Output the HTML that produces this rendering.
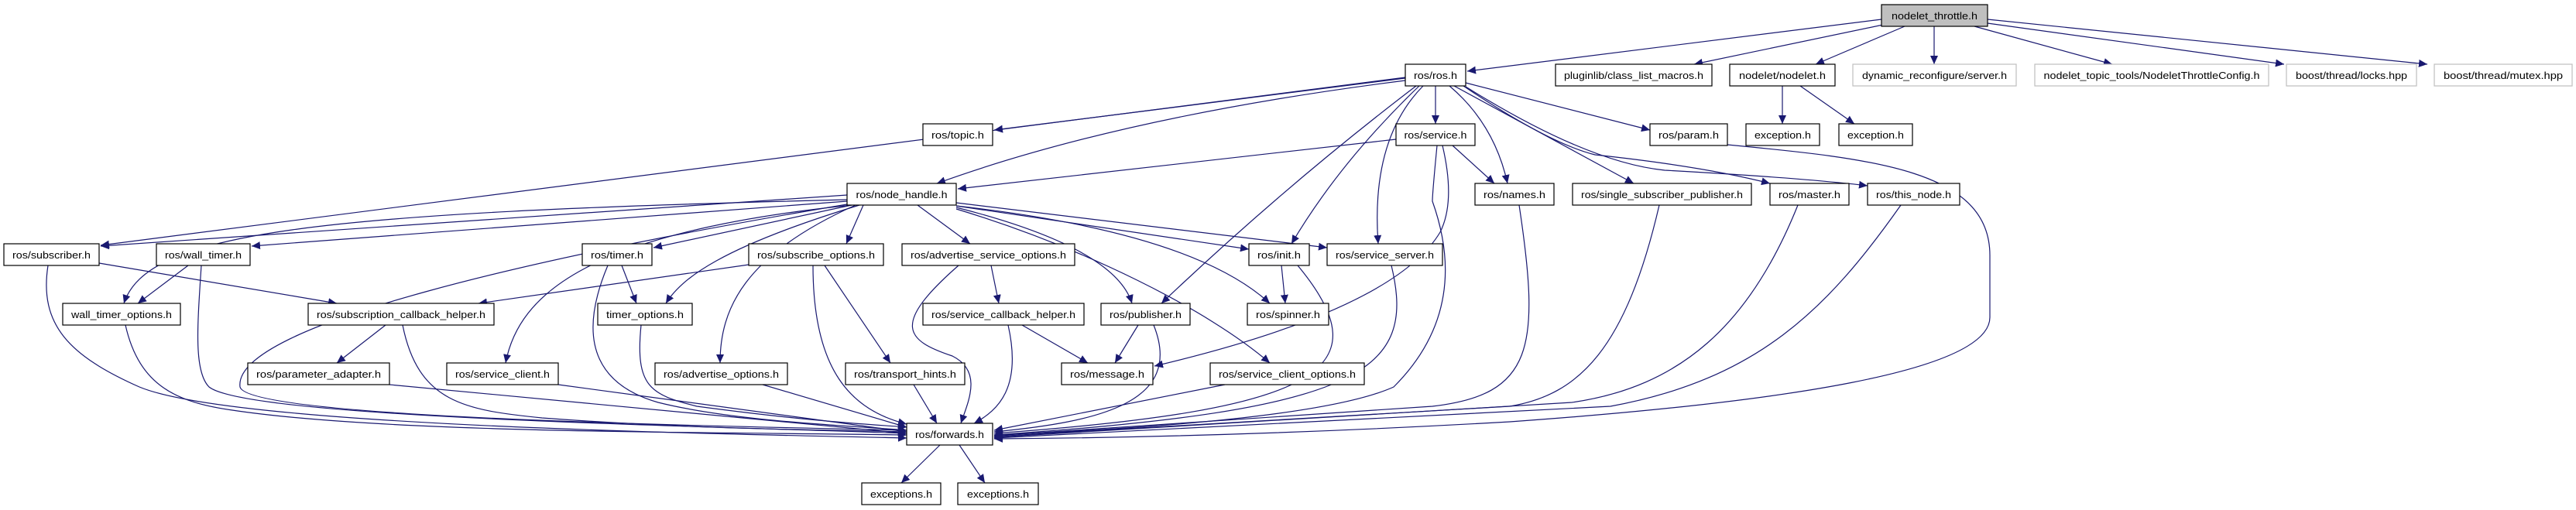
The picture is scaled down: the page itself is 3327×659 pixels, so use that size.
<!DOCTYPE html>
<html><head><meta charset="utf-8"><style>
html,body{margin:0;padding:0;background:#fff;}
svg{display:block}
text{font-family:"Liberation Sans",sans-serif;font-size:13px;fill:#000}
</style></head><body>
<svg width="3327" height="659" viewBox="0 0 3327 659" xmlns="http://www.w3.org/2000/svg">
<defs>
<marker id="a" markerUnits="userSpaceOnUse" markerWidth="12" markerHeight="10" refX="11" refY="5" orient="auto">
<path d="M0,0 L11,5 L0,10 Z" fill="#191970"/>
</marker>
</defs>
<g fill="none" stroke="#191970" stroke-width="1.2" marker-end="url(#a)">
<!-- top node -->
<path d="M2430,25 L1895,92"/>
<path d="M2432,32 L2188,83"/>
<path d="M2460,34 L2345,83"/>
<path d="M2498,34 L2498,83"/>
<path d="M2550,34 L2728,83"/>
<path d="M2567,30 L2950,83"/>
<path d="M2567,25 L3135,83"/>
<path d="M2302,111 L2302,160"/>
<path d="M2325,111 L2395,160"/>
<!-- ros.h -->
<path d="M1815,100 L130,317"/>
<path d="M1815,101 L1284,168"/>
<path d="M1815,104 Q1450,150 1210,237"/>
<path d="M1854,111 L1854,160"/>
<path d="M1872,111 Q1930,160 1947,237"/>
<path d="M1833,111 Q1730,210 1668,315"/>
<path d="M1829,111 Q1660,240 1500,392"/>
<path d="M1838,111 Q1770,180 1780,315"/>
<path d="M1878,111 L2110,237"/>
<path d="M1893,107 L2131,168"/>
<path d="M1890,111 Q2000,185 2060,200 Q2200,215 2286,237"/>
<path d="M1893,112 Q2050,210 2150,220 Q2330,230 2412,240"/>
<!-- service.h -->
<path d="M1803,180 L1237,244"/>
<path d="M1876,188 L1930,237"/>
<path d="M1863,188 Q1880,260 1860,300 Q1800,400 1491,473"/>
<path d="M1856,188 Q1850,250 1850,260 Q1900,400 1800,500 Q1700,545 1284,562"/>
<!-- param.h -->
<path d="M2231,187 C2420,205 2570,220 2570,330 L2570,410 C2570,480 2300,520 1950,545 Q1600,565 1284,567"/>
<!-- node_handle -->
<path d="M1094,252 L130,318"/>
<path d="M1094,260 L325,318"/>
<path d="M1094,258 C400,275 190,300 160,392"/>
<path d="M1100,265 L844,320"/>
<path d="M1110,265 C930,320 880,360 860,392"/>
<path d="M1115,265 L1093,315"/>
<path d="M1185,265 L1253,315"/>
<path d="M1105,265 C960,330 930,400 930,469"/>
<path d="M1100,265 C760,300 670,380 653,469"/>
<path d="M1235,270 C1400,320 1560,400 1640,469"/>
<path d="M1235,268 Q1440,320 1462,392"/>
<path d="M1235,266 L1613,322"/>
<path d="M1235,266 Q1540,300 1640,392"/>
<path d="M1235,262 L1714,320"/>
<path d="M1094,264 C700,330 300,420 310,500 C320,540 900,550 1171,556"/>
<!-- subscriber / wall timer -->
<path d="M128,340 L435,392"/>
<path d="M62,343 C50,420 90,460 180,500 C300,550 900,560 1171,566"/>
<path d="M243,343 L178,392"/>
<path d="M260,343 C255,420 250,480 270,500 C320,540 900,550 1171,560"/>
<path d="M162,420 C180,500 230,520 300,530 C500,560 900,558 1171,562"/>
<path d="M498,420 L435,469"/>
<path d="M520,420 C540,520 600,530 700,540 C900,555 1050,555 1171,558"/>
<path d="M785,343 C740,450 780,500 850,520 C950,545 1100,550 1171,556"/>
<path d="M803,343 L822,392"/>
<path d="M828,420 C820,500 840,510 900,525 C1050,545 1120,548 1171,552"/>
<path d="M967,342 L618,392"/>
<path d="M1065,343 L1150,469"/>
<path d="M1050,343 C1050,480 1100,530 1171,548"/>
<path d="M503,497 L1171,560"/>
<path d="M721,497 L1171,558"/>
<path d="M985,497 L1171,552"/>
<path d="M1180,497 L1210,547"/>
<!-- advertise service etc -->
<path d="M1280,343 L1290,392"/>
<path d="M1238,343 C1150,420 1170,440 1230,460 C1270,480 1250,520 1241,547"/>
<path d="M1320,420 L1405,469"/>
<path d="M1302,420 C1320,500 1290,530 1258,547"/>
<path d="M1470,420 L1440,469"/>
<path d="M1490,420 C1530,520 1420,545 1284,558"/>
<path d="M1655,343 L1660,392"/>
<path d="M1676,343 C1790,480 1700,530 1284,560"/>
<path d="M1797,343 C1830,480 1760,530 1284,562"/>
<path d="M1582,497 L1284,556"/>
<path d="M1962,265 C1990,450 1980,510 1850,525 L1284,563"/>
<path d="M2143,265 C2100,450 2040,510 1950,525 L1284,564"/>
<path d="M2322,265 C2260,420 2170,500 2030,520 L1284,565"/>
<path d="M2455,265 C2360,400 2270,490 2080,525 L1284,566"/>
<!-- forwards -->
<path d="M1214,575 L1164,624"/>
<path d="M1239,575 L1272,624"/>
</g>
<g stroke="#000" stroke-width="1.2" fill="#fff">
<rect x="2430" y="6" width="137" height="28" fill="#bfbfbf"/>
<rect x="1815" y="83" width="78" height="28"/>
<rect x="2009" y="83" width="202" height="28"/>
<rect x="2234" y="83" width="136" height="28"/>
<rect x="2393" y="83" width="211" height="28" stroke="#bfbfbf"/>
<rect x="2628" y="83" width="302" height="28" stroke="#bfbfbf"/>
<rect x="2953" y="83" width="168" height="28" stroke="#bfbfbf"/>
<rect x="3144" y="83" width="178" height="28" stroke="#bfbfbf"/>
<rect x="1192" y="160" width="90" height="28"/>
<rect x="1803" y="160" width="102" height="28"/>
<rect x="2131" y="160" width="100" height="28"/>
<rect x="2255" y="160" width="95" height="28"/>
<rect x="2375" y="160" width="95" height="28"/>
<rect x="1094" y="237" width="141" height="28"/>
<rect x="1905" y="237" width="102" height="28"/>
<rect x="2031" y="237" width="231" height="28"/>
<rect x="2286" y="237" width="102" height="28"/>
<rect x="2412" y="237" width="119" height="28"/>
<rect x="5" y="315" width="123" height="28"/>
<rect x="202" y="315" width="121" height="28"/>
<rect x="752" y="315" width="90" height="28"/>
<rect x="967" y="315" width="174" height="28"/>
<rect x="1165" y="315" width="223" height="28"/>
<rect x="1613" y="315" width="78" height="28"/>
<rect x="1714" y="315" width="149" height="28"/>
<rect x="81" y="392" width="152" height="28"/>
<rect x="398" y="392" width="240" height="28"/>
<rect x="772" y="392" width="122" height="28"/>
<rect x="1192" y="392" width="208" height="28"/>
<rect x="1422" y="392" width="115" height="28"/>
<rect x="1611" y="392" width="105" height="28"/>
<rect x="320" y="469" width="183" height="28"/>
<rect x="577" y="469" width="144" height="28"/>
<rect x="846" y="469" width="171" height="28"/>
<rect x="1092" y="469" width="154" height="28"/>
<rect x="1371" y="469" width="118" height="28"/>
<rect x="1563" y="469" width="199" height="28"/>
<rect x="1171" y="547" width="111" height="28"/>
<rect x="1113" y="624" width="102" height="28"/>
<rect x="1237" y="624" width="104" height="28"/>
</g>
<g text-anchor="middle" lengthAdjust="spacingAndGlyphs">
<text x="2498.5" y="25" textLength="111" lengthAdjust="spacingAndGlyphs">nodelet_throttle.h</text>
<text x="1854" y="102" textLength="56" lengthAdjust="spacingAndGlyphs">ros/ros.h</text>
<text x="2110" y="102" textLength="180" lengthAdjust="spacingAndGlyphs">pluginlib/class_list_macros.h</text>
<text x="2302" y="102" textLength="112" lengthAdjust="spacingAndGlyphs">nodelet/nodelet.h</text>
<text x="2498.5" y="102" textLength="187" lengthAdjust="spacingAndGlyphs">dynamic_reconfigure/server.h</text>
<text x="2779" y="102" textLength="279" lengthAdjust="spacingAndGlyphs">nodelet_topic_tools/NodeletThrottleConfig.h</text>
<text x="3037" y="102" textLength="144" lengthAdjust="spacingAndGlyphs">boost/thread/locks.hpp</text>
<text x="3233" y="102" textLength="154" lengthAdjust="spacingAndGlyphs">boost/thread/mutex.hpp</text>
<text x="1237" y="179" textLength="68" lengthAdjust="spacingAndGlyphs">ros/topic.h</text>
<text x="1854" y="179" textLength="81" lengthAdjust="spacingAndGlyphs">ros/service.h</text>
<text x="2181" y="179" textLength="78" lengthAdjust="spacingAndGlyphs">ros/param.h</text>
<text x="2302.5" y="179" textLength="73" lengthAdjust="spacingAndGlyphs">exception.h</text>
<text x="2422.5" y="179" textLength="73" lengthAdjust="spacingAndGlyphs">exception.h</text>
<text x="1164.5" y="256" textLength="118" lengthAdjust="spacingAndGlyphs">ros/node_handle.h</text>
<text x="1956" y="256" textLength="80" lengthAdjust="spacingAndGlyphs">ros/names.h</text>
<text x="2146.5" y="256" textLength="209" lengthAdjust="spacingAndGlyphs">ros/single_subscriber_publisher.h</text>
<text x="2337" y="256" textLength="80" lengthAdjust="spacingAndGlyphs">ros/master.h</text>
<text x="2471.5" y="256" textLength="97" lengthAdjust="spacingAndGlyphs">ros/this_node.h</text>
<text x="66.5" y="334" textLength="101" lengthAdjust="spacingAndGlyphs">ros/subscriber.h</text>
<text x="262.5" y="334" textLength="99" lengthAdjust="spacingAndGlyphs">ros/wall_timer.h</text>
<text x="797" y="334" textLength="68" lengthAdjust="spacingAndGlyphs">ros/timer.h</text>
<text x="1054" y="334" textLength="152" lengthAdjust="spacingAndGlyphs">ros/subscribe_options.h</text>
<text x="1276.5" y="334" textLength="201" lengthAdjust="spacingAndGlyphs">ros/advertise_service_options.h</text>
<text x="1652" y="334" textLength="56" lengthAdjust="spacingAndGlyphs">ros/init.h</text>
<text x="1788.5" y="334" textLength="127" lengthAdjust="spacingAndGlyphs">ros/service_server.h</text>
<text x="157" y="411" textLength="130" lengthAdjust="spacingAndGlyphs">wall_timer_options.h</text>
<text x="518" y="411" textLength="218" lengthAdjust="spacingAndGlyphs">ros/subscription_callback_helper.h</text>
<text x="833" y="411" textLength="100" lengthAdjust="spacingAndGlyphs">timer_options.h</text>
<text x="1296" y="411" textLength="186" lengthAdjust="spacingAndGlyphs">ros/service_callback_helper.h</text>
<text x="1479.5" y="411" textLength="93" lengthAdjust="spacingAndGlyphs">ros/publisher.h</text>
<text x="1663.5" y="411" textLength="83" lengthAdjust="spacingAndGlyphs">ros/spinner.h</text>
<text x="411.5" y="488" textLength="161" lengthAdjust="spacingAndGlyphs">ros/parameter_adapter.h</text>
<text x="649" y="488" textLength="122" lengthAdjust="spacingAndGlyphs">ros/service_client.h</text>
<text x="931.5" y="488" textLength="149" lengthAdjust="spacingAndGlyphs">ros/advertise_options.h</text>
<text x="1169" y="488" textLength="132" lengthAdjust="spacingAndGlyphs">ros/transport_hints.h</text>
<text x="1430" y="488" textLength="96" lengthAdjust="spacingAndGlyphs">ros/message.h</text>
<text x="1662.5" y="488" textLength="177" lengthAdjust="spacingAndGlyphs">ros/service_client_options.h</text>
<text x="1226.5" y="566" textLength="89" lengthAdjust="spacingAndGlyphs">ros/forwards.h</text>
<text x="1164" y="643" textLength="80" lengthAdjust="spacingAndGlyphs">exceptions.h</text>
<text x="1289" y="643" textLength="80" lengthAdjust="spacingAndGlyphs">exceptions.h</text>
</g>
</svg>
</body></html>
